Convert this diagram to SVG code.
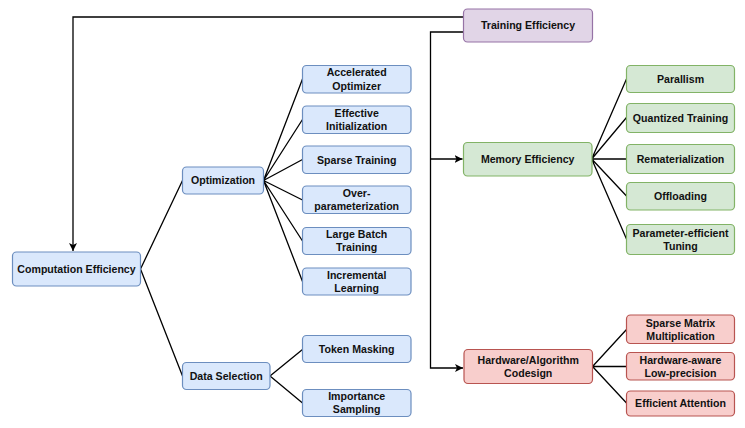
<svg xmlns="http://www.w3.org/2000/svg" width="745" height="428" viewBox="0 0 745 428">
<style>
.n rect{stroke-width:1.2}
.b rect{fill:#dae8fc;stroke:#6c8ebf}
.g rect{fill:#d5e8d4;stroke:#82b366}
.r rect{fill:#f8cecc;stroke:#b85450}
.p rect{fill:#e1d5e7;stroke:#9673a6}
text{font-family:"Liberation Sans",Arial,sans-serif;font-weight:bold;font-size:10.6px;fill:#111;text-anchor:middle}
.c path{fill:none;stroke:#000;stroke-width:1.3}
</style>
<defs>
<marker id="ah" markerUnits="userSpaceOnUse" markerWidth="10" markerHeight="10" refX="8" refY="4" orient="auto">
<path d="M0,0 L8,4 L0,8 L2,4 Z" fill="#000"/>
</marker>
</defs>
<rect width="745" height="428" fill="#fff"/>
<g class="c" id="connectors">
<path d="M463.5 17 H73 V251" marker-end="url(#ah)"/>
<path d="M463.5 32 H430.5 V368 H463" marker-end="url(#ah)"/>
<path d="M430.5 159 H462.5" marker-end="url(#ah)"/>
<path d="M591.7 159 L626.5 79 M591.7 159 L626.5 117.5 M591.7 159 L626.5 159 M591.7 159 L626.5 196 M591.7 159 L626.5 239"/>
<path d="M592.5 366.5 L626.5 329.5 M592.5 366.5 L626.5 366.5 M592.5 366.5 L626.5 403"/>
<path d="M263.5 180.5 L302.5 79 M263.5 180.5 L302.5 119.5 M263.5 180.5 L302.5 159.5 M263.5 180.5 L302.5 200 M263.5 180.5 L302.5 241 M263.5 180.5 L302.5 281.5"/>
<path d="M140.5 269 L182.5 180.5 M140.5 269 L182.5 376"/>
<path d="M270 376 L302.5 349.5 M270 376 L302.5 403"/>
</g>
<g id="training" class="n p"><rect x="463.5" y="9" width="129" height="33" rx="4"/><text x="528" y="29.3">Training Efficiency</text></g>
<g id="memory" class="n g"><rect x="463.5" y="142.5" width="128.5" height="33.5" rx="4"/><text x="527.7" y="163">Memory Efficiency</text></g>
<g id="hardware" class="n r"><rect x="464" y="349.5" width="128.5" height="34" rx="4"/><text x="528.2" y="363.6">Hardware/Algorithm</text><text x="528.2" y="377">Codesign</text></g>
<g id="parallism" class="n g"><rect x="626.5" y="65.5" width="108" height="27" rx="4"/><text x="680.5" y="82.8">Parallism</text></g>
<g id="quantized" class="n g"><rect x="626.5" y="103.5" width="108" height="29" rx="4"/><text x="680.5" y="121.8">Quantized Training</text></g>
<g id="remat" class="n g"><rect x="626.5" y="144.5" width="108" height="29" rx="4"/><text x="680.5" y="162.8">Rematerialization</text></g>
<g id="offloading" class="n g"><rect x="626.5" y="182.5" width="108" height="27.5" rx="4"/><text x="680.5" y="200">Offloading</text></g>
<g id="peft" class="n g"><rect x="626.5" y="224.5" width="108" height="30" rx="4"/><text x="680.5" y="236.5">Parameter-efficient</text><text x="680.5" y="249.8">Tuning</text></g>
<g id="spmm" class="n r"><rect x="626.5" y="315" width="108" height="28.5" rx="4"/><text x="680.5" y="326.5">Sparse Matrix</text><text x="680.5" y="339.8">Multiplication</text></g>
<g id="hwaware" class="n r"><rect x="626.5" y="352.5" width="108" height="27.5" rx="4"/><text x="680.5" y="363.6">Hardware-aware</text><text x="680.5" y="376.9">Low-precision</text></g>
<g id="attn" class="n r"><rect x="626.5" y="391" width="108" height="25" rx="4"/><text x="680.5" y="407.3">Efficient Attention</text></g>
<g id="computation" class="n b"><rect x="12.5" y="252" width="128" height="34" rx="4"/><text x="76.5" y="272.8">Computation Efficiency</text></g>
<g id="optimization" class="n b"><rect x="182.5" y="167" width="81" height="27" rx="4"/><text x="223" y="184.3">Optimization</text></g>
<g id="dataselection" class="n b"><rect x="182.5" y="362.5" width="87.5" height="27" rx="4"/><text x="226.2" y="379.8">Data Selection</text></g>
<g id="accel" class="n b"><rect x="302.5" y="65.5" width="108.5" height="27.5" rx="4"/><text x="356.7" y="76.2">Accelerated</text><text x="356.7" y="89.6">Optimizer</text></g>
<g id="init" class="n b"><rect x="302.5" y="106" width="108.5" height="27.5" rx="4"/><text x="356.7" y="116.7">Effective</text><text x="356.7" y="130.1">Initialization</text></g>
<g id="sparse" class="n b"><rect x="302.5" y="146" width="108.5" height="27.5" rx="4"/><text x="356.7" y="163.5">Sparse Training</text></g>
<g id="overparam" class="n b"><rect x="302.5" y="186" width="108.5" height="27.5" rx="4"/><text x="356.7" y="196.7">Over-</text><text x="356.7" y="210.1">parameterization</text></g>
<g id="largebatch" class="n b"><rect x="302.5" y="227.5" width="108.5" height="27" rx="4"/><text x="356.7" y="238">Large Batch</text><text x="356.7" y="251.4">Training</text></g>
<g id="incremental" class="n b"><rect x="302.5" y="268" width="108.5" height="27" rx="4"/><text x="356.7" y="278.5">Incremental</text><text x="356.7" y="291.9">Learning</text></g>
<g id="tokenmask" class="n b"><rect x="302.5" y="335.5" width="108.5" height="27" rx="4"/><text x="356.7" y="352.8">Token Masking</text></g>
<g id="importance" class="n b"><rect x="302.5" y="389.5" width="108.5" height="27" rx="4"/><text x="356.7" y="400">Importance</text><text x="356.7" y="413.4">Sampling</text></g>
</svg>
